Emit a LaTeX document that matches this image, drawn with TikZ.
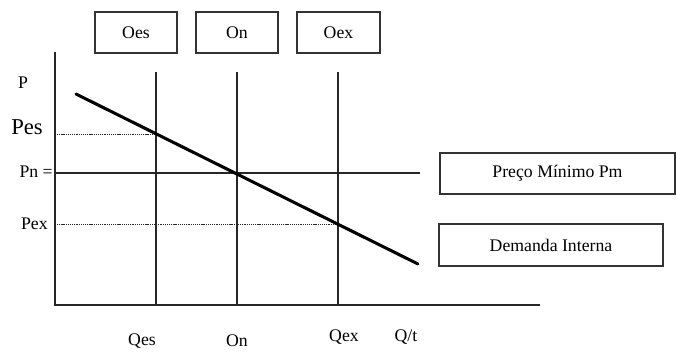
\documentclass[tikz,border=0pt]{standalone}
\usepackage{fontspec}
\setmainfont{Liberation Serif}

\tikzset{
  caixa/.style={draw=black!80, line width=0.9pt, inner sep=0pt, minimum height=30.75pt},
  rotulo/.style={font=\fontsize{13.3}{15}\selectfont, inner sep=0pt},
  linha/.style={draw=black!85, line width=0.9pt},
  pontilhado/.style={draw=black!85, line width=0.7pt, dash pattern=on 0.8pt off 0.6pt}
}

\begin{document}
\begin{tikzpicture}[x=0.75pt, y=-0.75pt]
  \useasboundingbox (0,0) rectangle (676,351);
  % CAIXAS SUPERIORES
  \node[caixa, rotulo, minimum width=61.5pt] (boxoes) at (136,32.5) {Oes};
  \node[caixa, rotulo, minimum width=61.5pt] (boxon) at (237,32.5) {On};
  \node[caixa, rotulo, minimum width=62.25pt] (boxoex) at (338.5,32.5) {Oex};
  % CAIXAS DA DIREITA
  \node[caixa, rotulo, minimum width=176.25pt] (pmin) at (557.5,173.5) {Preço Mínimo Pm};
  \node[caixa, rotulo, minimum width=168pt, minimum height=31.5pt] (demanda) at (551,245) {Demanda Interna};
  % EIXOS
  \coordinate (origem) at (55,305);
  \coordinate (topo) at (55,52);
  \coordinate (fimx) at (540,305);
  \draw[linha] (topo) -- (origem) -- (fimx);
  % VERTICAIS
  \coordinate (qes) at (156,305);
  \coordinate (qn) at (237,305);
  \coordinate (qex) at (338,305);
  \draw[linha] (qes) -- (156,72);
  \draw[linha] (qn) -- (237,72);
  \draw[linha] (qex) -- (338,72);
  % PRECOS
  \draw[pontilhado] (55,134) -- (156,134);
  \draw[linha] (55,173) -- (420,173);
  \draw[pontilhado] (55,224.5) -- (qex |- 0,224.5);
  % DEMANDA
  \draw[line width=2.3pt, line cap=round] (76,94) -- (418,264);
  % ROTULOS
  \node[rotulo] (p) at (23,83) {P};
  \node[rotulo, font=\fontsize{17}{19}\selectfont] (pes) at (27,127) {Pes};
  \node[rotulo, anchor=east] (pn) at (53,172) {Pn =};
  \node[rotulo, anchor=east] (pex) at (48,224) {Pex};
  \node[rotulo] (lqes) at (142,341) {Qes};
  \node[rotulo] (lqn) at (237,341) {On};
  \node[rotulo] (lqex) at (344,337) {Qex};
  \node[rotulo] (lqt) at (406,337) {Q/t};
\end{tikzpicture}
\end{document}
